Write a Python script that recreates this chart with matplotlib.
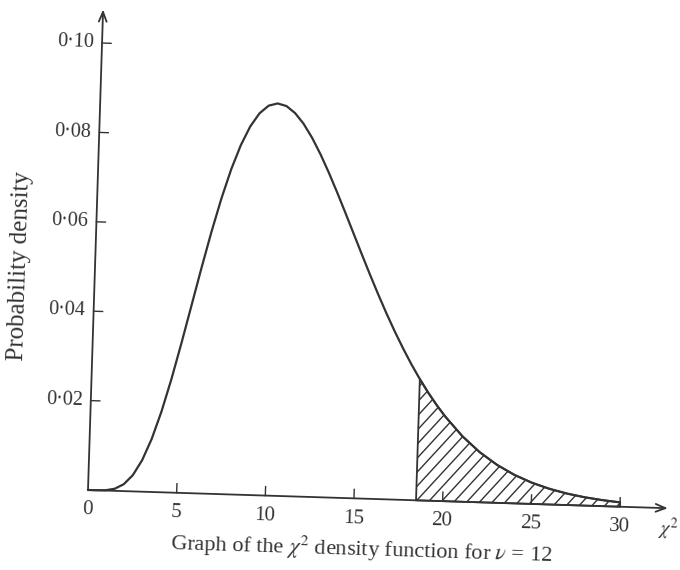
import numpy as np
import matplotlib
matplotlib.use("Agg")
import matplotlib.pyplot as plt
from matplotlib.transforms import Affine2D
from matplotlib.collections import LineCollection
from matplotlib.patches import Polygon

plt.rcParams['font.family'] = ['Liberation Serif', 'DejaVu Serif']
plt.rcParams['mathtext.fontset'] = 'stix'

# ---- data ----
chi2_x = [0, 0.5, 1, 1.5, 2, 2.5, 3, 3.5, 4, 4.5, 5, 5.5, 6, 6.5, 7, 7.5, 8, 8.5,
          9, 9.5, 10, 10.5, 11, 11.5, 12, 12.5, 13, 13.5, 14, 14.5, 15, 15.5, 16,
          16.5, 17, 17.5, 18, 18.5, 19, 19.5, 20, 21, 22, 23, 24, 25, 26, 27, 28,
          29, 30]
density = [0, 0.000003, 0.000079, 0.000467, 0.00153, 0.00364, 0.00706, 0.01188,
           0.01804, 0.02532, 0.0334, 0.04189, 0.05041, 0.05858, 0.06608, 0.07267,
           0.07815, 0.08241, 0.08541, 0.08717, 0.08773, 0.08721, 0.0857, 0.08336,
           0.08031, 0.07671, 0.07268, 0.06836, 0.06386, 0.05927, 0.05469, 0.05018,
           0.0458, 0.0416, 0.03762, 0.03387, 0.03036, 0.02712, 0.02413, 0.0214,
           0.01892, 0.01464, 0.01121, 0.00849, 0.00637, 0.00474, 0.0035, 0.00256,
           0.00186, 0.00135, 0.00097]
shade_from = 18.5
x_ticks = [0, 5, 10, 15, 20, 25, 30]
y_ticks = [0.02, 0.04, 0.06, 0.08, 0.10]
x_arrow_end = 32.7
y_arrow_end = 0.1075
caption = r"Graph of the $\chi^2$ density function for $\nu$ = 12"
y_label = "Probability density"

# ---- layout (pixels) ----
W, H = 680, 570
OX, OY = 88, 80          # origin in display pixels
SX, SY = 17.74, 4472.0   # pixels per data unit
TILT = -1.8              # scan rotation, degrees
ink = '#333333'

fig = plt.figure(figsize=(W / 100, H / 100), dpi=100)
ax = fig.add_axes([0, 0, 1, 1])
ax.set_xlim(-OX / SX, (W - OX) / SX)
ax.set_ylim(-OY / SY, (H - OY) / SY)
ax.axis('off')
T = ax.transData + Affine2D().rotate_deg_around(OX, OY, TILT)

xs = np.array(chi2_x)
ys = np.array(density)

# curve
ax.plot(xs, ys, transform=T, color=ink, lw=1.6, solid_capstyle='round', zorder=3)

# shaded tail
m = xs >= shade_from
px = np.concatenate([[xs[m][0]], xs[m], [xs[m][-1]]])
py = np.concatenate([[0], ys[m], [0]])
poly = Polygon(np.column_stack([px, py]), closed=True, facecolor='none',
               edgecolor=ink, lw=1.3, transform=T, zorder=2)
ax.add_patch(poly)
starts = np.arange(shade_from - 7, 31, 12.5 / SX)
segs = [[(s, 0), (s + 160 / SX, 185 / SY)] for s in starts]
lc = LineCollection(segs, colors=ink, linewidths=1.0, transform=T, zorder=2)
ax.add_collection(lc)
lc.set_clip_path(poly)

# axes with arrows
arrow = dict(arrowstyle='->,head_length=0.7,head_width=0.28', color=ink, lw=1.3,
             shrinkA=0, shrinkB=0)
ax.annotate('', xy=(x_arrow_end, 0), xytext=(0, 0), xycoords=T, textcoords=T,
            arrowprops=arrow)
ax.annotate('', xy=(0, y_arrow_end), xytext=(0, 0), xycoords=T, textcoords=T,
            arrowprops=arrow)

# ticks
for v in y_ticks:
    ax.plot([0, 9 / SX], [v, v], transform=T, color=ink, lw=1.0)
    ax.text(-8 / SX, v, f"{v:.2f}".replace('.', '·'), transform=T, ha='right',
            va='center', rotation=TILT, rotation_mode='anchor', fontsize=14.5, color=ink)
for v in x_ticks:
    if v != 0:
        ax.plot([v, v], [0, 9 / SY], transform=T, color=ink, lw=1.0)
    ax.text(v, -20 / SY, str(v), transform=T, ha='center', va='center',
            rotation=TILT, rotation_mode='anchor', fontsize=15, color=ink)

# labels
ax.text(x_arrow_end + 0.05, -21 / SY, r"$\chi^2$", transform=T, ha='center',
        va='center', rotation=TILT, fontsize=14, color=ink)
ax.text(275 / SX, -51 / SY, caption, transform=T, ha='center', va='center',
        rotation=TILT, rotation_mode='anchor', fontsize=16, color=ink)
ax.text(-75 / SX, 0.0497, y_label, transform=T, ha='center', va='center',
        rotation=90 + TILT, rotation_mode='anchor', fontsize=18, color=ink)

fig.savefig('out.png', dpi=100, facecolor='white')
